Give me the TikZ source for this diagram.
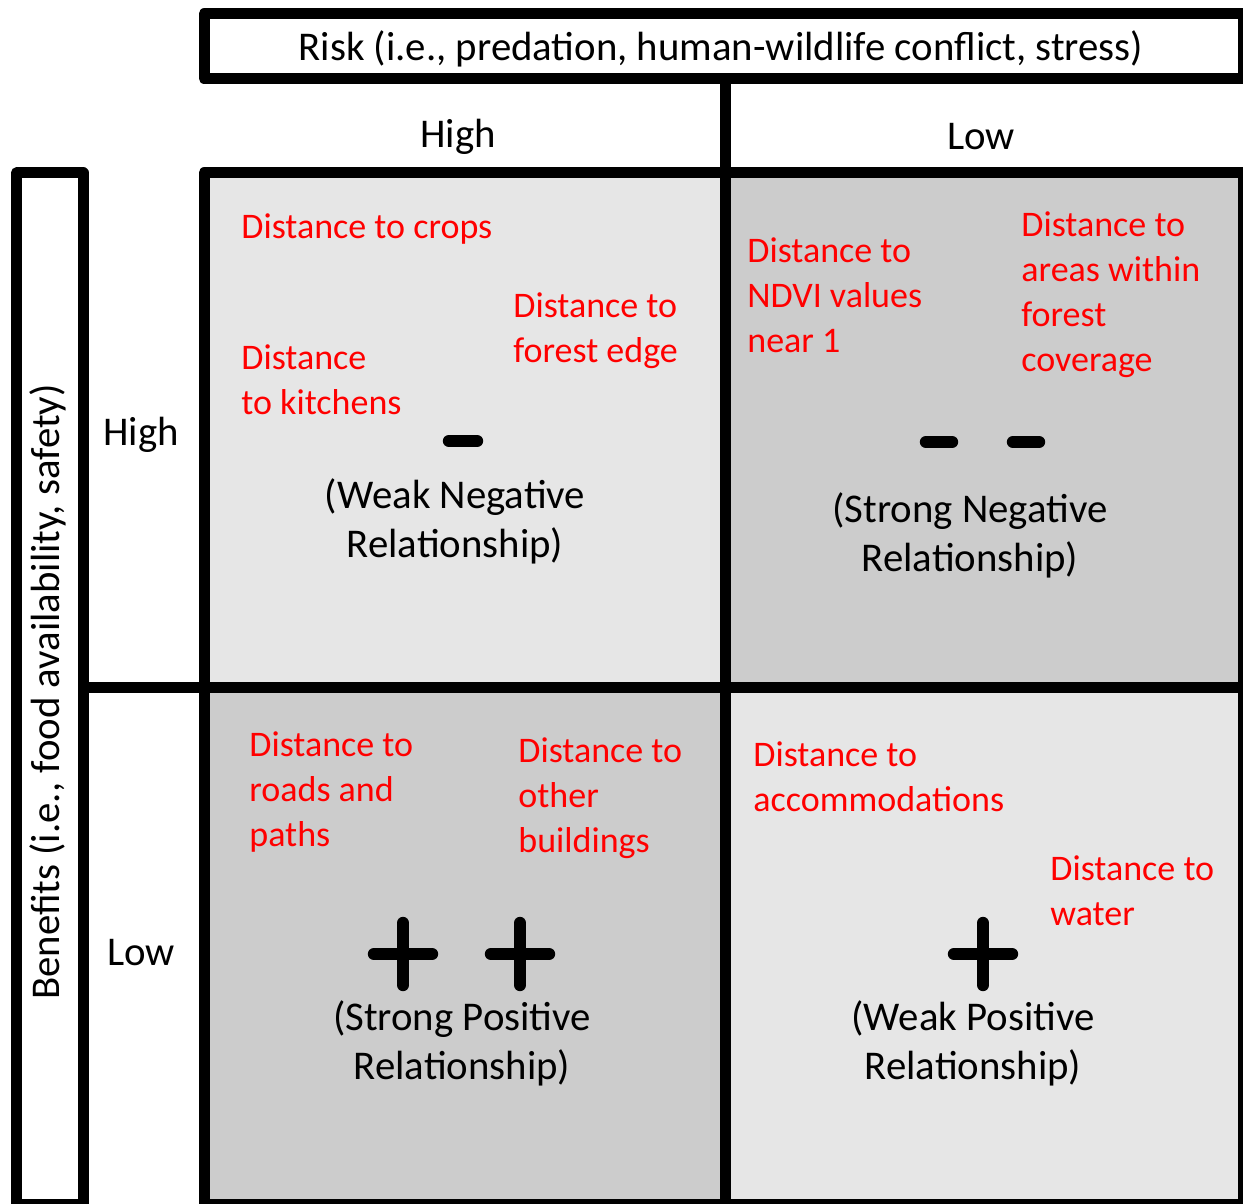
\documentclass[tikz,border=0pt]{standalone}
\usepackage{fontspec}
\setmainfont{Carlito}
\usetikzlibrary{positioning}
\definecolor{CellLight}{RGB}{230,230,230}
\definecolor{CellDark}{RGB}{204,204,204}
\definecolor{FactorRed}{RGB}{255,0,0}
\tikzset{
  frame/.style={line width=5.5pt, line join=round},
  factor/.style={FactorRed, align=left, anchor=west, inner sep=0pt, yshift=-1pt, font=\fontsize{18}{22.5}\selectfont},
  axistext/.style={black, align=center, inner sep=0pt, yshift=-1.25pt, font=\fontsize{20.4}{24.5}\selectfont},
  signbar/.style={line width=6.2pt, line cap=round}
}

\begin{document}
\begin{tikzpicture}[x=0.5pt, y=-0.5pt]
      \useasboundingbox (0,0) rectangle (1243,1204);
      \clip (0,0) rectangle (1243,1204);
      % cells
      \fill[CellLight] (204,173) rectangle (725,687);
      \fill[CellDark] (725,173) rectangle (1243,687);
      \fill[CellDark] (204,687) rectangle (725,1204);
      \fill[CellLight] (725,687) rectangle (1243,1204);
      % frames
      \draw[frame] (204,14) rectangle (1243.5,78.5);
      \draw[frame] (16.5,173) rectangle (83,1204.5);
      \draw[frame] (204,173) rectangle (1243.5,1204.5);
      \draw[frame] (725,78.5) -- (725,1204.5);
      \draw[frame] (83,687) -- (1243.5,687);
      % axis labels
      \node[axistext] (risk) at (721,46) {Risk (i.e., predation, human-wildlife conflict, stress)};
      \node[axistext] (riskhigh) at (458,134) {High};
      \node[axistext] (risklow) at (981,134) {Low};
      \node[axistext, rotate=90, xshift=-1.25pt, yshift=1.25pt] (benefits) at (50,687) {Benefits (i.e., food availability, safety)};
      \node[axistext] (benhigh) at (141,432) {High};
      \node[axistext] (benlow) at (141,950) {Low};
      % high benefits, high risk
      \node[factor] (crops) at (241,227) {Distance to crops};
      \node[factor] (edge) at (513,328.5) {Distance to\\forest edge};
      \node[factor] (kitchens) at (241,378) {Distance\\to kitchens};
      \draw[signbar] (449,441) -- (477,441);
      \node[axistext] (weakneg) at (455,518.5) {(Weak Negative\\Relationship)};
      % high benefits, low risk
      \node[factor] (ndvi) at (747,293.5) {Distance to\\NDVI values\\near 1};
      \node[factor] (forest) at (1021,292.5) {Distance to\\areas within\\forest\\coverage};
      \draw[signbar] (926,442) -- (952,442);
      \draw[signbar] (1013,442) -- (1039,442);
      \node[axistext] (strongneg) at (970,533) {(Strong Negative\\Relationship)};
      % low benefits, high risk
      \node[factor] (roads) at (249,790) {Distance to\\roads and\\paths};
      \node[factor] (buildings) at (518,796) {Distance to\\other\\buildings};
      \foreach \px in {403,520}
        \draw[signbar] (\px,923) -- (\px,985) (\px-29,954) -- (\px+29,954);
      \node[axistext] (strongpos) at (462,1040.5) {(Strong Positive\\Relationship)};
      % low benefits, low risk
      \node[factor] (accom) at (753,774.5) {Distance to\\accommodations};
      \node[factor] (water) at (1050,888.5) {Distance to\\water};
      \draw[signbar] (983,923) -- (983,985) (954,954) -- (1012,954);
      \node[axistext] (weakpos) at (973,1040.5) {(Weak Positive\\Relationship)};
\end{tikzpicture}
\end{document}
